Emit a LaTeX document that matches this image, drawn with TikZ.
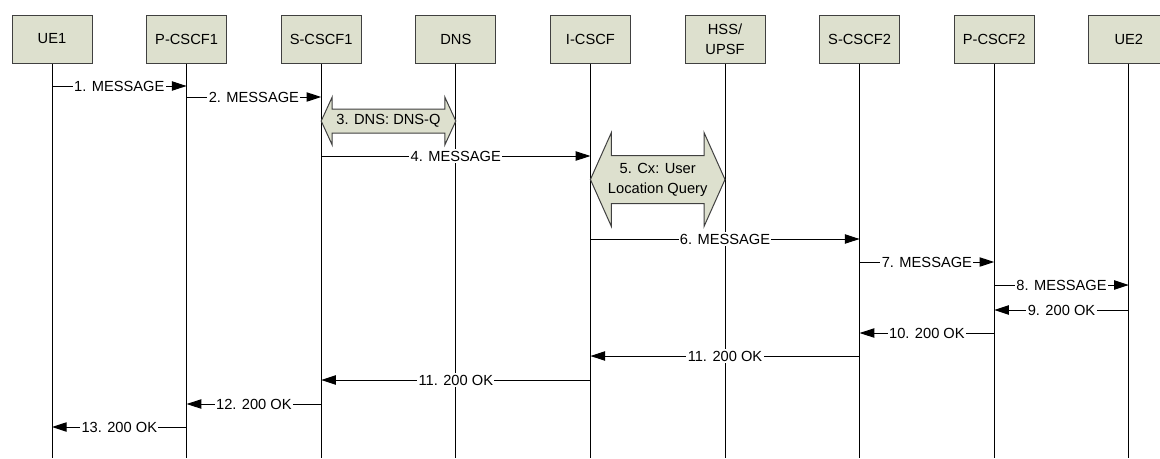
\documentclass[tikz,border=0pt]{standalone}
\usepackage{fontspec}
\setmainfont{Liberation Sans}
\usetikzlibrary{arrows.meta,calc}
\definecolor{boxfill}{RGB}{221,224,206}
\definecolor{boxline}{RGB}{64,64,64}
\begin{document}
\begin{tikzpicture}[x=0.75pt,y=-0.75pt,
 ent/.style={draw=boxline,fill=boxfill,line width=0.75pt,minimum width=60pt,minimum height=36pt,inner sep=0pt,align=center,font=\fontsize{11}{15}\selectfont},
 life/.style={line width=0.75pt,black},
 msg/.style={line width=0.75pt,black,-{Triangle[length=11pt,width=7pt]}},
 lbl/.style={fill=white,inner xsep=1pt,inner ysep=1pt,font=\fontsize{11}{13}\selectfont},
 dbl/.style={draw=boxline,fill=boxfill,line width=0.75pt,line join=miter},
 dbltxt/.style={align=center,font=\fontsize{11}{15}\selectfont,inner sep=0pt}]
\useasboundingbox (0,0) rectangle (1160,458);
% entities
\node[ent] (ue1) at (52,39) {UE1};
\node[ent] (pc1) at (186.6,39) {P-CSCF1};
\node[ent] (sc1) at (321.2,39) {S-CSCF1};
\node[ent] (dns) at (455.8,39) {DNS};
\node[ent] (ic)  at (590.4,39) {I-CSCF};
\node[ent] (hss) at (725,39) {HSS/\\UPSF};
\node[ent] (sc2) at (859.6,39) {S-CSCF2};
\node[ent] (pc2) at (994.2,39) {P-CSCF2};
\node[ent] (ue2) at (1128.8,39) {UE2};
% rows
\coordinate (bot) at (0,458);
\coordinate (r1) at (0,86);
\coordinate (r2) at (0,97);
\coordinate (r3) at (0,121);
\coordinate (r4) at (0,156);
\coordinate (r5) at (0,179.5);
\coordinate (r6) at (0,239);
\coordinate (r7) at (0,262);
\coordinate (r8) at (0,285);
\coordinate (r9) at (0,310);
\coordinate (r10) at (0,333);
\coordinate (r11) at (0,356);
\coordinate (r12) at (0,380);
\coordinate (r13) at (0,404);
\coordinate (r14) at (0,427);
% lifelines
\foreach \n in {ue1,pc1,sc1,dns,ic,hss,sc2,pc2,ue2}
  \draw[life] (\n.south) -- (\n |- bot);
% 3. DNS double arrow
\coordinate (d3l) at (sc1 |- r3);
\coordinate (d3r) at (dns |- r3);
\draw[dbl] (d3l) -- ++(11,-24) -- ++(0,12) -- ($(d3r)+(-11,-12)$) -- ++(0,-12) -- (d3r)
  -- ++(-11,24) -- ++(0,-12) -- ($(d3l)+(11,12)$) -- ++(0,12) -- cycle;
\node[dbltxt] (t3) at ($(d3l)!0.5!(d3r)$) {3. DNS: DNS-Q};
% 5. Cx double arrow
\coordinate (d5l) at (ic |- r5);
\coordinate (d5r) at (hss |- r5);
\draw[dbl] (d5l) -- ++(21,-47) -- ++(0,23) -- ($(d5r)+(-21,-24)$) -- ++(0,-23) -- (d5r)
  -- ++(-21,47) -- ++(0,-23) -- ($(d5l)+(21,24)$) -- ++(0,23) -- cycle;
\node[dbltxt] (t5) at ($(d5l)!0.5!(d5r)$) {5. Cx: User\\Location Query};
% messages
\draw[msg] (ue1 |- r1) -- node[lbl] (l1) {1. MESSAGE} (pc1 |- r1);
\draw[msg] (pc1 |- r2) -- node[lbl] (l2) {2. MESSAGE} (sc1 |- r2);
\draw[msg] (sc1 |- r4) -- node[lbl] (l4) {4. MESSAGE} (ic |- r4);
\draw[msg] (ic |- r6) -- node[lbl] (l6) {6. MESSAGE} (sc2 |- r6);
\draw[msg] (sc2 |- r7) -- node[lbl] (l7) {7. MESSAGE} (pc2 |- r7);
\draw[msg] (pc2 |- r8) -- node[lbl] (l8) {8. MESSAGE} (ue2 |- r8);
\draw[msg] (ue2 |- r9) -- node[lbl] (l9) {9. 200 OK} (pc2 |- r9);
\draw[msg] (pc2 |- r10) -- node[lbl] (l10) {10. 200 OK} (sc2 |- r10);
\draw[msg] (sc2 |- r11) -- node[lbl] (l11a) {11. 200 OK} (ic |- r11);
\draw[msg] (ic |- r12) -- node[lbl] (l11b) {11. 200 OK} (sc1 |- r12);
\draw[msg] (sc1 |- r13) -- node[lbl] (l12) {12. 200 OK} (pc1 |- r13);
\draw[msg] (pc1 |- r14) -- node[lbl] (l13) {13. 200 OK} (ue1 |- r14);
\end{tikzpicture}
\end{document}
